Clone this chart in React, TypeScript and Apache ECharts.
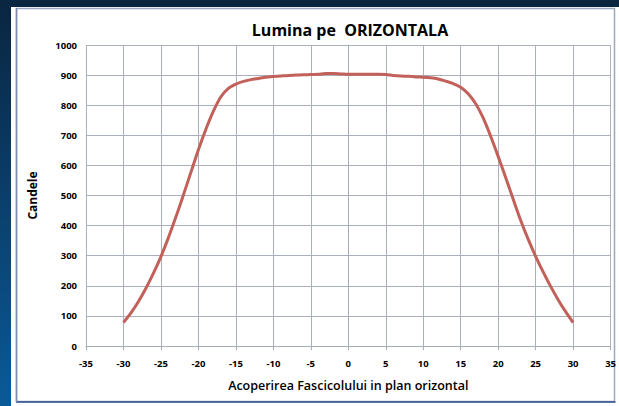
import React, { useEffect, useRef } from "react";
import * as echarts from "echarts";

const angles = [-30, -29, -28, -27, -26, -25, -24, -23, -22, -21, -20, -19, -18, -17, -16, -15, -14, -13, -12, -11, -10, -9, -8, -7, -6, -5, -4, -3, -2, -1, 0, 1, 2, 3, 4, 5, 6, 7, 8, 9, 10, 11, 12, 13, 14, 15, 16, 17, 18, 19, 20, 21, 22, 23, 24, 25, 26, 27, 28, 29, 30];
const candele = [78, 110, 148, 192, 242, 297, 360, 429, 502, 577, 652, 720, 780, 828, 856, 870, 879, 885, 889, 893, 895, 897, 899, 900, 901, 902, 903, 905, 905, 904, 903, 903, 903, 903, 903, 902, 899, 897, 896, 894, 893, 891, 887, 880, 872, 860, 838, 805, 758, 697, 630, 560, 488, 418, 355, 298, 246, 198, 154, 114, 78];
const xTicks = [-35, 35, 5];
const yTicks = [0, 1000, 100];
const title = "Lumina pe  ORIZONTALA";
const xName = "Acoperirea Fascicolului in plan orizontal";
const yName = "Candele";

export default function App() {
  const ref = useRef<HTMLDivElement>(null);
  useEffect(() => {
    if (!ref.current) return;
    const chart = echarts.init(ref.current, null, { renderer: "svg" });
    const font = "'Open Sans', 'Liberation Sans', sans-serif";
    chart.setOption({
      animation: false,
      backgroundColor: "#ffffff",
      graphic: [
        { type: "rect", shape: { x: 0, y: 0, width: 619, height: 7 }, style: { fill: "#0a2540" }, z: -10 },
        {
          type: "rect",
          shape: { x: 0, y: 0, width: 11, height: 406 },
          style: {
            fill: new echarts.graphic.LinearGradient(0, 0, 0, 1, [
              { offset: 0, color: "#0a2540" },
              { offset: 1, color: "#0a5a98" },
            ]),
          },
          z: -10,
        },
        { type: "rect", shape: { x: 16.5, y: 8.5, width: 598, height: 393 }, style: { fill: "#ffffff", stroke: "#9aa8c0", lineWidth: 1.5 }, z: -9 },
        { type: "line", shape: { x1: 16, y1: 402, x2: 615.5, y2: 402 }, style: { stroke: "#2c4c8c", lineWidth: 1.5 }, z: -8 },
        { type: "line", shape: { x1: 16.5, y1: 8, x2: 16.5, y2: 402 }, style: { stroke: "#7c8cae", lineWidth: 1.5 }, z: -8 },
      ],
      title: {
        text: title,
        left: 345,
        top: 17,
        textAlign: "center",
        textStyle: { fontFamily: font, fontWeight: "bold", fontSize: 16, color: "#000" },
      },
      grid: { left: 86, right: 8, top: 45, bottom: 60, containLabel: false },
      xAxis: {
        type: "value",
        min: xTicks[0],
        max: xTicks[1],
        interval: xTicks[2],
        name: xName,
        nameLocation: "middle",
        nameGap: 33,
        nameTextStyle: { fontFamily: font, fontWeight: 600, fontSize: 12.5, color: "#000" },
        axisLine: { show: true, onZero: false, lineStyle: { color: "#a4acb8", width: 1 } },
        axisTick: { show: true, length: 4, lineStyle: { color: "#a4acb8" } },
        axisLabel: { fontFamily: font, fontWeight: "bold", fontSize: 9.5, color: "#000", margin: 12 },
        splitLine: { show: true, lineStyle: { color: "#aab1bc", width: 1 } },
      },
      yAxis: {
        type: "value",
        min: yTicks[0],
        max: yTicks[1],
        interval: yTicks[2],
        name: yName,
        nameLocation: "middle",
        nameGap: 48,
        nameRotate: 90,
        nameTextStyle: { fontFamily: font, fontWeight: "bold", fontSize: 12, color: "#000" },
        axisLine: { show: true, lineStyle: { color: "#a4acb8", width: 1 } },
        axisTick: { show: true, length: 4, lineStyle: { color: "#a4acb8" } },
        axisLabel: { fontFamily: font, fontWeight: "bold", fontSize: 9.5, color: "#000", margin: 9, formatter: (v: number) => String(v) },
        splitLine: { show: true, lineStyle: { color: "#aab1bc", width: 1 } },
      },
      series: [
        {
          type: "line",
          data: angles.map((a, i) => [a, candele[i]]),
          smooth: 0.3,
          showSymbol: false,
          lineStyle: { color: "#c2605a", width: 3 },
        },
      ],
    });
    return () => chart.dispose();
  }, []);
  return (
    <div style={{ position: "fixed", left: 0, top: 0, width: 619, height: 406 }}>
      <div ref={ref} style={{ width: 619, height: 406 }} />
    </div>
  );
}
